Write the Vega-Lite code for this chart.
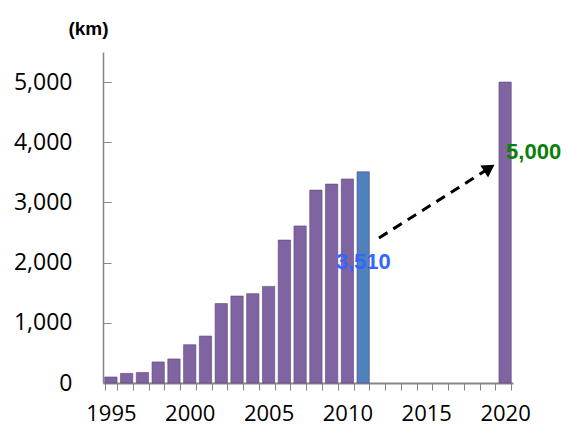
{
  "$schema": "https://vega.github.io/schema/vega-lite/v6.json",
  "width": 410,
  "height": 331,
  "autosize": {"type": "none"},
  "padding": {"left": 103, "top": 52, "right": 54, "bottom": 43},
  "background": "white",
  "config": {"view": {"stroke": null}, "axis": {"grid": false}},
  "datasets": {
    "rail": [
      {"year": 1995, "km": 100},
      {"year": 1996, "km": 160},
      {"year": 1997, "km": 175},
      {"year": 1998, "km": 350},
      {"year": 1999, "km": 400},
      {"year": 2000, "km": 636},
      {"year": 2001, "km": 780},
      {"year": 2002, "km": 1320},
      {"year": 2003, "km": 1445},
      {"year": 2004, "km": 1485},
      {"year": 2005, "km": 1605},
      {"year": 2006, "km": 2375},
      {"year": 2007, "km": 2610},
      {"year": 2008, "km": 3205},
      {"year": 2009, "km": 3305},
      {"year": 2010, "km": 3390},
      {"year": 2011, "km": 3510},
      {"year": 2020, "km": 5000}
    ],
    "arrow": [
      {"year": 2012, "km": 2410},
      {"year": 2019, "km": 3570}
    ]
  },
  "layer": [
    {
      "data": {"name": "rail"},
      "mark": {"type": "bar", "stroke": "#5b4779", "strokeWidth": 0.6},
      "encoding": {
        "x": {
          "field": "year",
          "type": "ordinal",
          "scale": {
            "domain": [1995,1996,1997,1998,1999,2000,2001,2002,2003,2004,2005,2006,2007,2008,2009,2010,2011,2012,2013,2014,2015,2016,2017,2018,2019,2020],
            "paddingInner": 0.22,
            "paddingOuter": 0.11
          },
          "axis": {
            "title": null,
            "labelAngle": 0,
            "labelExpr": "datum.value % 5 == 0 ? datum.label : ''",
            "labelOverlap": false,
            "labelFont": "Open Sans",
            "labelFontSize": 22,
            "labelColor": "#000000",
            "labelPadding": 13,
            "tickBand": "extent",
            "tickSize": 7,
            "tickColor": "#868686",
            "domainColor": "#868686",
            "domainWidth": 2
          }
        },
        "y": {
          "field": "km",
          "type": "quantitative",
          "scale": {"domain": [0, 5500], "nice": false},
          "axis": {
            "values": [0, 1000, 2000, 3000, 4000, 5000],
            "format": ",.0f",
            "labelFont": "Open Sans",
            "labelFontSize": 23,
            "labelColor": "#000000",
            "tickSize": -8,
            "labelPadding": 39,
            "tickColor": "#868686",
            "domainColor": "#868686",
            "domainWidth": 1.5,
            "title": "(km)",
            "titleAngle": 0,
            "titleX": -15,
            "titleY": -24,
            "titleAlign": "center",
            "titleBaseline": "middle",
            "titleFont": "Liberation Sans",
            "titleFontWeight": "bold",
            "titleFontSize": 19,
            "titleColor": "#000000"
          }
        },
        "color": {
          "condition": {"test": "datum.year == 2011", "value": "#4F81BD"},
          "value": "#8064A2"
        }
      }
    },
    {
      "data": {"name": "arrow"},
      "mark": {"type": "line", "color": "#000000", "strokeWidth": 3, "strokeDash": [10, 7]},
      "encoding": {
        "x": {"field": "year", "type": "ordinal"},
        "y": {"field": "km", "type": "quantitative"}
      }
    },
    {
      "data": {"name": "arrow"},
      "transform": [{"filter": "datum.year == 2019"}],
      "mark": {"type": "point", "shape": "triangle-right", "filled": true, "color": "#000000", "opacity": 1, "size": 200, "angle": -33},
      "encoding": {
        "x": {"field": "year", "type": "ordinal"},
        "y": {"field": "km", "type": "quantitative"}
      }
    },
    {
      "data": {"name": "rail"},
      "transform": [{"filter": "datum.year == 2011"}],
      "mark": {"type": "text", "dy": 90, "font": "Liberation Sans", "fontWeight": "bold", "fontSize": 22, "color": "#3366FF"},
      "encoding": {
        "x": {"field": "year", "type": "ordinal"},
        "y": {"field": "km", "type": "quantitative"},
        "text": {"field": "km", "type": "quantitative", "format": ",.0f"}
      }
    },
    {
      "data": {"name": "rail"},
      "transform": [{"filter": "datum.year == 2020"}],
      "mark": {"type": "text", "dy": 70, "dx": 1, "align": "left", "font": "Liberation Sans", "fontWeight": "bold", "fontSize": 22, "color": "#0A7F0A"},
      "encoding": {
        "x": {"field": "year", "type": "ordinal"},
        "y": {"field": "km", "type": "quantitative"},
        "text": {"field": "km", "type": "quantitative", "format": ",.0f"}
      }
    }
  ]
}
